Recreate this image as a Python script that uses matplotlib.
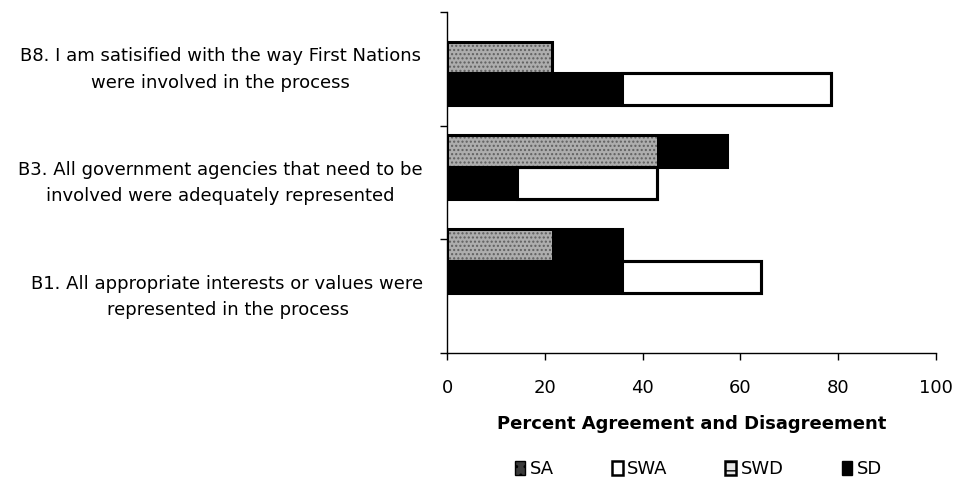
import matplotlib
matplotlib.use("Agg")
import matplotlib.pyplot as plt
import matplotlib.transforms as mtransforms
from matplotlib.patches import Patch
import numpy as np

plt.rcParams['font.family'] = ['DejaVu Sans']
FS = 13

# Survey statements (bottom to top)
statements = [
    "B1. All appropriate interests or values were\nrepresented in the process",
    "B3. All government agencies that need to be\ninvolved were adequately represented",
    "B8. I am satisified with the way First Nations\nwere involved in the process",
]
# Percent of respondents (n = 14)
sa = [21.4, 42.9, 21.4]    # strongly agree
swa = [14.3, 14.3, 0.0]    # somewhat agree
sd = [35.7, 14.3, 35.7]    # strongly disagree
swd = [28.6, 28.6, 42.9]   # somewhat disagree
xticks = [0, 20, 40, 60, 80, 100]
legend_labels = ['SA', 'SWA', 'SWD', 'SD']

fig = plt.figure(figsize=(9.58, 4.82), dpi=100)
ax = fig.add_axes([0.4666, 0.2676, 0.5104, 0.7075])

n = len(statements)
group_y = np.array([0.81, 1.635, 2.46])
bar_h = 0.28
agree_y = group_y + bar_h / 2
disagree_y = group_y - bar_h / 2

gray = '#adadad'
# agreement bars: grainy gray SA, then SWA
ax.barh(agree_y, sa, height=bar_h, color=gray, edgecolor='#5f5f5f',
        hatch='....', linewidth=0, zorder=2)
ax.barh(agree_y, swa, left=sa, height=bar_h, color='black', linewidth=0, zorder=2)
tot_a = np.array(sa) + np.array(swa)
ax.barh(agree_y, tot_a, height=bar_h, fill=False, edgecolor='black',
        linewidth=2.2, zorder=3)
# disagreement bars: SD black, then SWD white
ax.barh(disagree_y, sd, height=bar_h, color='black', linewidth=0, zorder=2)
ax.barh(disagree_y, swd, left=sd, height=bar_h, color='white',
        edgecolor='black', linewidth=2.2, zorder=2)
tot_d = np.array(sd) + np.array(swd)
ax.barh(disagree_y, tot_d, height=bar_h, fill=False, edgecolor='black',
        linewidth=2.2, zorder=3)

ax.set_xlim(0, 100)
ax.set_ylim(0, n)
ax.set_xticks(xticks)
ax.set_xticklabels([str(t) for t in xticks], fontsize=FS)
ax.tick_params(axis='x', length=5, width=1, pad=14)

ax.set_yticks(np.arange(n) + 0.5)
ax.set_yticklabels(statements, fontsize=FS, ha='center', linespacing=1.6)
ax.tick_params(axis='y', which='major', length=0, pad=163)
ax.set_yticks(np.arange(n + 1), minor=True)
ax.tick_params(axis='y', which='minor', length=5, width=1)

# nudge the wrapped statement labels up so each block sits on its band centre
shift = mtransforms.ScaledTranslation(0, 4 / 72, fig.dpi_scale_trans)
for i, lab in enumerate(ax.get_yticklabels()):
    t = shift
    if i == 0:
        t = mtransforms.ScaledTranslation(5 / 72, 4 / 72, fig.dpi_scale_trans)
    lab.set_transform(lab.get_transform() + t)

for s in ['top', 'right']:
    ax.spines[s].set_visible(False)
ax.spines['left'].set_linewidth(1)
ax.spines['bottom'].set_linewidth(1)

ax.set_xlabel("Percent Agreement and Disagreement", fontsize=FS,
              fontweight='bold', labelpad=12.5)

handles = [
    Patch(facecolor='#3a3a3a', edgecolor='black', hatch='..'),
    Patch(facecolor='white', edgecolor='black', linewidth=1.8),
    Patch(facecolor='#e6e6e6', edgecolor='black', linewidth=1.8, hatch='--'),
    Patch(facecolor='black', edgecolor='black'),
]
fig.legend(handles, legend_labels, loc='center',
           bbox_to_anchor=(0.729, 0.027), ncol=4, frameon=False,
           fontsize=FS, handlelength=0.6, handleheight=0.8,
           handletextpad=0.25, columnspacing=3.2)

fig.savefig("out.png", dpi=100)
